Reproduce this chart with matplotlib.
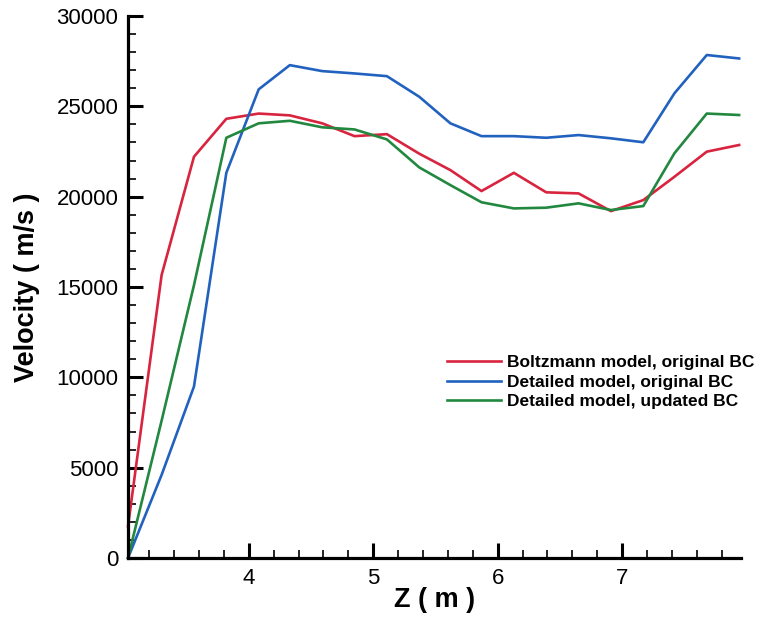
import matplotlib
matplotlib.use("Agg")
import matplotlib.pyplot as plt
from matplotlib.ticker import MultipleLocator

plt.rcParams['font.family'] = ['Liberation Sans', 'DejaVu Sans']

# Z 位置 (m)
z = [3.03, 3.30, 3.56, 3.82, 4.08, 4.33, 4.59, 4.85, 5.11, 5.37,
     5.62, 5.87, 6.13, 6.39, 6.65, 6.91, 7.17, 7.42, 7.68, 7.94]

# 速度 (m/s)
boltzmann_orig = [1750, 15660, 22210, 24310, 24600, 24500, 24060, 23350, 23460, 22380,
                  21470, 20310, 21320, 20240, 20180, 19200, 19810, 21100, 22490, 22860]
detailed_orig = [0, 4600, 9490, 21320, 25940, 27280, 26950, 26820, 26670, 25530,
                 24060, 23350, 23350, 23260, 23410, 23230, 23010, 25720, 27840, 27650]
detailed_upd = [0, 7600, 15100, 23260, 24060, 24200, 23840, 23720, 23170, 21620,
                20640, 19690, 19350, 19390, 19630, 19260, 19480, 22400, 24600, 24520]

labels = ["Boltzmann model, original BC",
          "Detailed model, original BC",
          "Detailed model, updated BC"]
colors = ["#d8243f", "#2262bf", "#23883f"]

W, H = 765, 617
fig = plt.figure(figsize=(W / 100, H / 100), dpi=100)
ax = fig.add_axes([128 / W, 59 / H, (741 - 128) / W, (601 - 59) / H])

for ys, lab, c in zip([boltzmann_orig, detailed_orig, detailed_upd], labels, colors):
    ax.plot(z, ys, color=c, linewidth=1.9, label=lab, clip_on=False)

ax.set_xlim(3.03, 7.955)
ax.set_ylim(0, 30000)
ax.xaxis.set_major_locator(MultipleLocator(1))
ax.xaxis.set_minor_locator(MultipleLocator(0.2))
ax.yaxis.set_major_locator(MultipleLocator(5000))
ax.yaxis.set_minor_locator(MultipleLocator(1000))

ax.spines['top'].set_visible(False)
ax.spines['right'].set_visible(False)
for s in ['left', 'bottom']:
    ax.spines[s].set_linewidth(2.3)

ax.tick_params(which='both', direction='in', top=False, right=False)
ax.tick_params(which='major', length=10.5, width=2.2, labelsize=16, pad=7)
ax.tick_params(which='minor', length=6, width=1.2)

ax.set_xlabel("Z ( m )", fontsize=19.5, fontweight='bold', va='center')
ax.xaxis.set_label_coords(0.5, -0.077)
ax.set_ylabel("Velocity ( m/s )", fontsize=19.5, fontweight='bold', va='center')
ax.yaxis.set_label_coords(-0.165, 0.5)

ax.legend(loc='upper left', bbox_to_anchor=(447 / W, 1 - 355 / H),
          bbox_transform=fig.transFigure, frameon=False,
          prop={'weight': 'bold', 'size': 12.5},
          handlelength=3.1, handletextpad=0.35, labelspacing=0.25,
          borderpad=0, borderaxespad=0)

fig.savefig("out.png", dpi=100)
